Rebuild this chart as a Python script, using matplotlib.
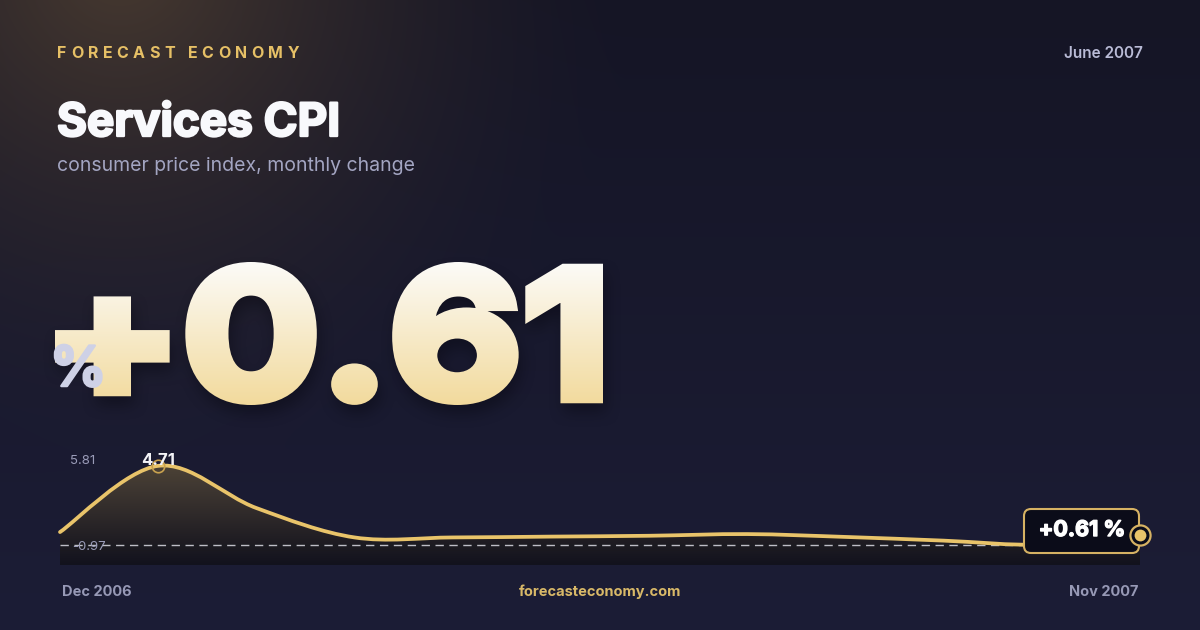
import numpy as np
import matplotlib
matplotlib.use('Agg')
import matplotlib.pyplot as plt
import matplotlib.patheffects as pe
from matplotlib.path import Path
from matplotlib.patches import PathPatch, FancyBboxPatch
from matplotlib.textpath import TextPath, text_to_path
from matplotlib.font_manager import FontProperties
from matplotlib.transforms import Affine2D

# 数据
months = ['Dec 2006', 'Jan 2007', 'Feb 2007', 'Mar 2007', 'Apr 2007', 'May 2007',
          'Jun 2007', 'Jul 2007', 'Aug 2007', 'Sep 2007', 'Oct 2007', 'Nov 2007']
values = [0.77, 4.71, 2.20, 0.45, 0.45, 0.50, 0.55, 0.65, 0.48, 0.26, 0.02, 0.61]
y_max = 5.81
y_min = -0.97
peak_value = 4.71
headline = '+0.61'
brand = 'FORECAST ECONOMY'
title = 'Services CPI'
subtitle = 'consumer price index, monthly change'
date_label = 'June 2007'
site = 'forecasteconomy.com'

W, H = 1200, 630
GOLD = '#e9c46a'
plt.rcParams['font.family'] = ['Inter', 'DejaVu Sans']

fig = plt.figure(figsize=(W / 100, H / 100), dpi=100)
bg = fig.add_axes([0, 0, 1, 1])
bg.set_xlim(0, W)
bg.set_ylim(H, 0)
bg.axis('off')

# 背景：深蓝 + 左上角暖色光晕
yy, xx = np.mgrid[0:H, 0:W]
top = np.array([0x15, 0x15, 0x25]) / 255
bot = np.array([0x1c, 0x1d, 0x36]) / 255
t = (yy / H)[..., None]
img = top * (1 - t) + bot * t
d = np.sqrt((xx - 120) ** 2 + (yy + 40) ** 2) / 520
glow = np.clip(1 - d, 0, 1)[..., None] ** 1.6
warm = np.array([0x48, 0x3a, 0x30]) / 255
img = img * (1 - glow) + warm * glow
bg.imshow(img, extent=(0, W, H, 0), zorder=0, aspect='auto')


def spaced_text(x, y, s, size, spacing, **kw):
    fp = FontProperties(family='Inter', weight='bold', size=size)
    for ch in s:
        bg.text(x, y, ch, fontproperties=fp, va='center', ha='left', **kw)
        w, _, _ = text_to_path.get_text_width_height_descent(ch, fp, ismath=False)
        x += w * 100 / 72 + spacing


def fat(c, w=1.3):
    return [pe.withStroke(linewidth=w, foreground=c)]


def box_blur(a, r):
    for axis in (0, 1):
        c = np.cumsum(np.pad(a, [(r + 1, r) if i == axis else (0, 0) for i in range(2)], mode='edge'), axis=axis)
        a = (np.take(c, range(2 * r + 1, c.shape[axis]), axis=axis) -
             np.take(c, range(0, c.shape[axis] - 2 * r - 1), axis=axis)) / (2 * r + 1)
    return a


spaced_text(57, 53, brand, 11.5, 4.45, color='#e6c066')
bg.text(1143, 54, date_label, ha='right', va='center', fontsize=11, fontweight='semibold', color='#b9bbd6')
bg.text(57, 124, title, ha='left', va='center', fontsize=33, fontweight='bold', color='#f8f9fc',
        path_effects=fat('#f8f9fc', 1.7))
bg.text(57, 166, subtitle, ha='left', va='center', fontsize=14, color='#a3a5c2')

# 大号数字：先画成遮罩（加粗描边），再用渐变着色
half = 6.0
fp_big = FontProperties(family='Inter', weight='bold')
tp = TextPath((0, 0), headline, size=100, prop=fp_big)
e0 = tp.get_extents()
sx = (603 - 55 - 2 * half) / e0.width
sy = (405 - 262 - 2 * half) / e0.height
tr = Affine2D().translate(-e0.x0, -e0.y0).scale(sx, -sy).translate(55 + half, 405 - half)
big_path = tr.transform_path(tp)

off = plt.figure(figsize=(W / 100, H / 100), dpi=100, facecolor='white')
oax = off.add_axes([0, 0, 1, 1])
oax.set_xlim(0, W)
oax.set_ylim(H, 0)
oax.axis('off')
oax.add_patch(PathPatch(big_path, facecolor='black', edgecolor='black', lw=2 * half * 72 / 100,
                        joinstyle='miter'))
off.canvas.draw()
mask = 1 - np.asarray(off.canvas.buffer_rgba())[..., 0].astype(float) / 255
plt.close(off)

shadow = box_blur(box_blur(np.roll(np.roll(mask, 9, axis=0), 3, axis=1), 8), 8)
sh_img = np.zeros((H, W, 4))
sh_img[..., :3] = np.array([0x05, 0x05, 0x0c]) / 255
sh_img[..., 3] = shadow * 0.4
bg.imshow(sh_img, extent=(0, W, H, 0), zorder=2, aspect='auto')

tt = np.clip((yy - 262) / (405 - 262), 0, 1)[..., None]
c0 = np.array([0xfc, 0xfb, 0xf8]) / 255
c1 = np.array([0xf2, 0xda, 0x9c]) / 255
num_img = np.zeros((H, W, 4))
num_img[..., :3] = c0 * (1 - tt) + c1 * tt
num_img[..., 3] = mask
bg.imshow(num_img, extent=(0, W, H, 0), zorder=3, aspect='auto')

bg.text(50, 371, '%', ha='left', va='center', fontsize=40, fontweight='bold', color='#ced1e6', zorder=4,
        path_effects=fat('#ced1e6', 1.8))

# 迷你折线图
cx0, cx1, cy0, cy1 = 60, 1140, 445, 565
ax = fig.add_axes([cx0 / W, (H - cy1) / H, (cx1 - cx0) / W, (cy1 - cy0) / H])
ax.set_xlim(0, len(values) - 1)
ax.set_ylim(y_min - 0.22, y_max + 0.14)
ax.axis('off')
ax.patch.set_alpha(0)

xs = np.arange(len(values), dtype=float)
ys = np.array(values)
pts = np.column_stack([xs, ys])
verts = [pts[0]]
codes = [Path.MOVETO]
for i in range(len(pts) - 1):
    p0 = pts[max(i - 1, 0)]
    p1 = pts[i]
    p2 = pts[i + 1]
    p3 = pts[min(i + 2, len(pts) - 1)]
    verts += [p1 + (p2 - p0) / 6, p2 - (p3 - p1) / 6, p2]
    codes += [Path.CURVE4] * 3
line_path = Path(verts, codes)

ybot = ax.get_ylim()[0]
fill_verts = verts + [(xs[-1], ybot), (xs[0], ybot), verts[0]]
fill_codes = codes + [Path.LINETO, Path.LINETO, Path.CLOSEPOLY]
fill_patch = PathPatch(Path(fill_verts, fill_codes), facecolor='none', edgecolor='none')
ax.add_patch(fill_patch)
g2 = np.linspace(0, 1, 256)[:, None, None]
ctop = np.array([0.31, 0.27, 0.22, 1.0])
cbot = np.array([0.07, 0.07, 0.11, 0.95])
grad2 = (ctop * (1 - g2) + cbot * g2) * np.ones((256, 2, 4))
fi = ax.imshow(grad2, extent=(0, xs[-1], ybot, peak_value + 0.2), aspect='auto', zorder=1)
fi.set_clip_path(fill_patch)

ax.axhline(0, color='#e8e8f0', lw=1, ls=(0, (6, 4)), alpha=0.8, zorder=2)
ax.add_patch(PathPatch(line_path, facecolor='none', edgecolor=GOLD, lw=2.7,
                       capstyle='round', joinstyle='round', zorder=3, clip_on=False))

ip = int(np.argmax(ys))
ax.plot(xs[ip], ys[ip], 'o', ms=9, mfc='none', mec='#c9a24f', mew=1.2, zorder=4)
ax.annotate(f'{ys[ip]:.2f}', (xs[ip], ys[ip]), xytext=(0, 4), textcoords='offset points',
            ha='center', va='center', fontsize=12, fontweight='bold', color='#f3f3f6', zorder=5)

pix = bg.transData
ax.text(70, 461, f'{y_max:.2f}', transform=pix, ha='left', va='center', fontsize=9.5, color='#9a9cb8', zorder=5)
ax.text(72, 547, f'{y_min:.2f}', transform=pix, ha='left', va='center', fontsize=9.5, color='#9a9cb8', zorder=5)

# 末端标签
box = FancyBboxPatch((1024, 509), 115, 44, boxstyle='round,pad=0,rounding_size=7', transform=pix,
                     facecolor='#0b0c19', edgecolor='#d6b263', lw=1.5, zorder=6, clip_on=False)
ax.add_patch(box)
ax.text(1082, 530, f'{ys[-1]:+.2f} %', transform=pix, ha='center', va='center', fontsize=15.5,
        fontweight='bold', color='#ffffff', zorder=7, path_effects=fat('#ffffff', 1.0))
ax.plot(xs[-1], ys[-1], 'o', ms=14.5, mfc='#0b0c19', mec='#d6b263', mew=1.6, zorder=8, clip_on=False)
ax.plot(xs[-1], ys[-1], 'o', ms=8.5, mfc=GOLD, mec='none', zorder=9, clip_on=False)

# 底部
bg.text(62, 592, months[0], ha='left', va='center', fontsize=10.5, fontweight='bold', color='#9799b6')
bg.text(1138, 592, months[-1], ha='right', va='center', fontsize=10.5, fontweight='bold', color='#9799b6')
bg.text(600, 592, site, ha='center', va='center', fontsize=10.5, fontweight='bold', color='#d9b968')

fig.savefig('out.png', dpi=100)
